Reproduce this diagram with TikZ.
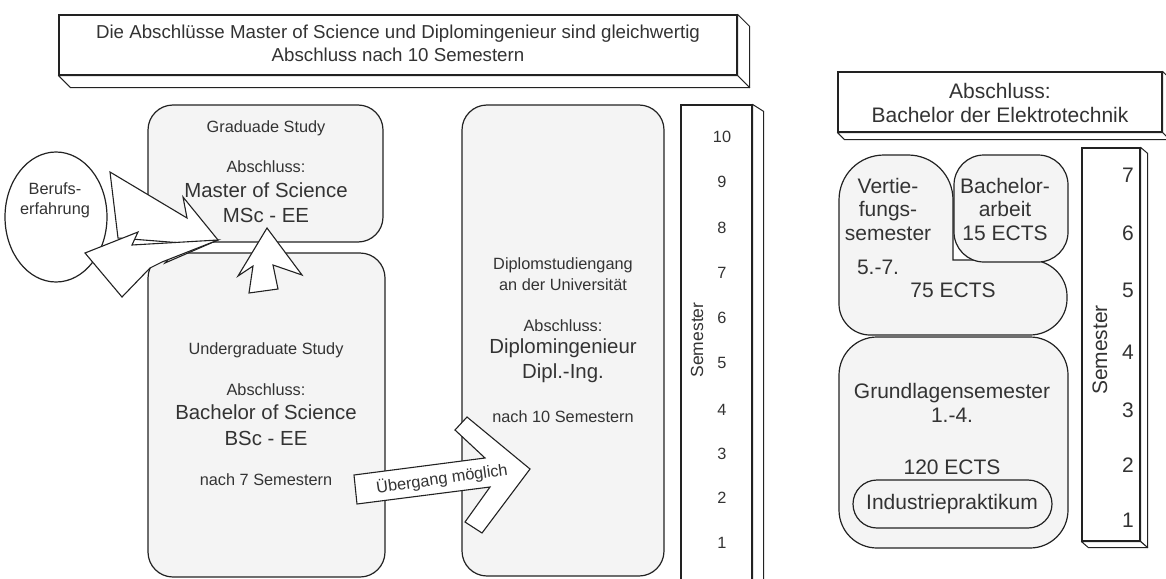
\documentclass[tikz,border=0pt]{standalone}
\usepackage{fontspec}
\setmainfont{Liberation Sans}
\usetikzlibrary{shapes.geometric}
\definecolor{txtcol}{HTML}{333333}
\definecolor{lncol}{HTML}{222222}
\definecolor{boxfill}{HTML}{F4F4F4}
\begin{document}
\begin{tikzpicture}[x=1pt,y=-1pt,
  outl/.style={line width=1.2pt, draw=lncol},
  rbox/.style={outl, fill=boxfill, rounded corners=25pt, inner sep=0pt},
  flat/.style={outl, fill=white, inner sep=0pt},
  face/.style={line width=1pt, draw=lncol, fill=white, line join=round},
  blk/.style={line width=1.1pt, draw=lncol, fill=white, line join=miter},
  ts/.style={text=txtcol, font=\fontsize{16.3}{20}\selectfont, inner sep=0pt, align=center},
  tb/.style={text=txtcol, font=\fontsize{20.4}{25}\selectfont, inner sep=0pt, align=center},
  tt/.style={text=txtcol, font=\fontsize{18.7}{23}\selectfont, inner sep=0pt, align=center},
  tr/.style={text=txtcol, font=\fontsize{21}{23.5}\selectfont, inner sep=0pt, align=center},
]
\useasboundingbox (0,0) rectangle (1166,578);
\begin{scope}
\clip (0,0) rectangle (1166,578);

% ---------- top 3D box ----------
\node[flat, minimum width=678pt, minimum height=60pt] (top) at (398,45) {};
\draw[face] (top.north east) -- ([shift={(12,12)}]top.north east) -- ([shift={(12,12)}]top.south east) -- (top.south east) -- cycle;
\draw[face] (top.south west) -- ([shift={(12,12)}]top.south west) -- ([shift={(12,12)}]top.south east) -- (top.south east) -- cycle;
\node[tt] (toptxt) at (398,43) {Die Abschlüsse Master of Science und Diplomingenieur sind gleichwertig\\Abschluss nach 10 Semestern};

% ---------- left semester column ----------
\node[flat, minimum width=71pt, minimum height=495pt] (lcol) at (716.5,352.5) {};
\draw[face] (lcol.north east) -- ([shift={(11,7)}]lcol.north east) -- ([shift={(11,7)}]lcol.south east) -- (lcol.south east) -- cycle;
\foreach \n/\yy in {10/137,9/182,8/228,7/273,6/318,5/363,4/410,3/454,2/498,1/543}
  \node[ts] (ln\n) at (722,\yy) {\n};
\node[ts, font=\fontsize{17.5}{20}\selectfont, rotate=90] (lsem) at (697,340) {Semester};

% ---------- graduate / undergraduate / diplom boxes ----------
\node[rbox, minimum width=235pt, minimum height=137pt] (grad) at (265.5,173.5) {};
\node[rbox, minimum width=237pt, minimum height=324pt] (ugrad) at (266.5,415) {};
\node[rbox, minimum width=202pt, minimum height=471pt] (dipl) at (563,340.5) {};

\node[ts] (g1) at (266,128) {Graduade Study};
\node[ts] (g2) at (266,167) {Abschluss:};
\node[tb] (g3) at (266,190) {Master of Science};
\node[tb] (g4) at (266,215) {MSc - EE};

\node[ts] (u1) at (266,350) {Undergraduate Study};
\node[ts] (u2) at (266,390) {Abschluss:};
\node[tb] (u3) at (266,412) {Bachelor of Science};
\node[tb] (u4) at (266,438) {BSc - EE};
\node[ts] (u5) at (266,480) {nach 7 Semestern};

\node[ts] (d1) at (563,265) {Diplomstudiengang};
\node[ts] (d2) at (563,285) {an der Universität};
\node[ts] (d3) at (563,326) {Abschluss:};
\node[tb] (d4) at (563,348) {Diplomingenieur};
\node[tb] (d5) at (563,373) {Dipl.-Ing.};
\node[ts] (d6) at (563,417) {nach 10 Semestern};

% ---------- ellipse ----------
\node[ellipse, outl, fill=white, minimum width=102pt, minimum height=130pt, inner sep=0pt] (beruf) at (56,217) {};
\node[ts] (b1) at (55,200) {Berufs-\\erfahrung};

% ---------- block arrows ----------
\draw[blk] (110,172) -- (187,218) -- (183,197) -- (218,240) -- (165,263) -- (182,243) -- (118,238) -- cycle;
\draw[blk] (85,253) -- (138,232) -- (132,245) -- (218,240) -- (162,262) -- (150,268) -- (122,297) -- cycle;
\draw[blk] (267,228) -- (302,275) -- (273,265) -- (278,289) -- (249,293) -- (253,266) -- (238,276) -- cycle;
\draw[blk] (354,475) -- (485,458) -- (455,430) -- (467,417) -- (530,469) -- (482,533) -- (465,522) -- (490,487) -- (357,504) -- cycle;
\node[ts, rotate=8] (ueb) at (442,479) {Übergang möglich};

% ---------- right part ----------
\node[flat, minimum width=324pt, minimum height=60pt] (rtop) at (1000,102) {};
\draw[face] (rtop.north east) -- ([shift={(7,7)}]rtop.north east) -- ([shift={(7,7)}]rtop.south east) -- (rtop.south east) -- cycle;
\draw[face] (rtop.south west) -- ([shift={(7,7)}]rtop.south west) -- ([shift={(7,7)}]rtop.south east) -- (rtop.south east) -- cycle;
\node[tr] (rt) at (1000,103) {Abschluss:\\Bachelor der Elektrotechnik};

\node[flat, minimum width=58pt, minimum height=393pt] (rcol) at (1111,344.5) {};
\draw[face] (rcol.north east) -- ([shift={(7,6)}]rcol.north east) -- ([shift={(7,6)}]rcol.south east) -- (rcol.south east) -- cycle;
\draw[face] (rcol.south west) -- ([shift={(7,6)}]rcol.south west) -- ([shift={(7,6)}]rcol.south east) -- (rcol.south east) -- cycle;
\foreach \n/\yy in {7/175,6/233,5/290,4/352,3/410,2/465,1/520}
  \node[tr] (rn\n) at (1128,\yy) {\n};
\node[tr, rotate=90] (rsem) at (1100,350) {Semester};

% Vertiefungssemester shape
\draw[outl, fill=boxfill] (839,200) .. controls (839,175) and (859,155) .. (884,155)
  -- (908,155) .. controls (933,155) and (953,175) .. (953,200)
  -- (953,260) -- (1030,260) .. controls (1050,260) and (1067,276) .. (1067,296)
  -- (1067,299) .. controls (1067,319) and (1050,335) .. (1030,335)
  -- (870,335) .. controls (853,335) and (839,321) .. (839,304) -- cycle;
\node[rbox, rounded corners=30pt, minimum width=114pt, minimum height=107pt] (barb) at (1011,208.5) {};
\node[rbox, rounded corners=38pt, minimum width=229pt, minimum height=211pt] (grund) at (953.5,442.5) {};
\node[rbox, rounded corners=24pt, minimum width=199pt, minimum height=48pt] (ind) at (952.5,504) {};

\node[tr] (v1) at (888,209) {Vertie-\\fungs-\\semester};
\node[tr] (v2) at (878,267) {5.-7.};
\node[tr] (v3) at (953,290) {75 ECTS};
\node[tr] (ba) at (1005,209) {Bachelor-\\arbeit\\15 ECTS};
\node[tr] (gr1) at (952,403) {Grundlagensemester\\1.-4.};
\node[tr] (gr2) at (952,467) {120 ECTS};
\node[tr] (ind1) at (952,504) {Industriepraktikum};
\end{scope}
\end{tikzpicture}
\end{document}
